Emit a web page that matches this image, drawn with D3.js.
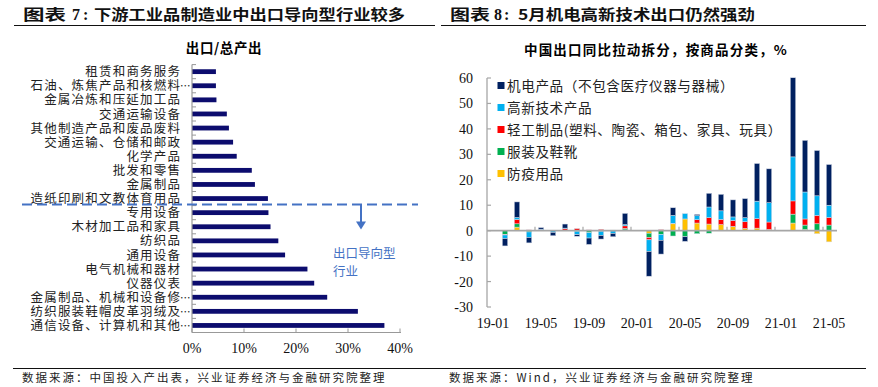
<!DOCTYPE html>
<html>
<head>
<meta charset="utf-8">
<script src="https://cdn.jsdelivr.net/npm/d3@7"></script>
<style>
  body { margin: 0; background: #fff; }
  svg { display: block; }
  .cjk { font-family: "Noto Sans CJK SC", sans-serif; }
  .num { font-family: "Liberation Serif", "Times New Roman", serif; }
</style>
</head>
<body>
<svg id="chart" width="878" height="387"></svg>
<script>
// ---- left chart data: export / total output
const industries = [
  "租赁和商务服务", "石油、炼焦产品和核燃料…", "金属冶炼和压延加工品", "交通运输设备",
  "其他制造产品和废品废料", "交通运输、仓储和邮政", "化学产品", "批发和零售", "金属制品",
  "造纸印刷和文教体育用品", "专用设备", "木材加工品和家具", "纺织品", "通用设备",
  "电气机械和器材", "仪器仪表", "金属制品、机械和设备修…", "纺织服装鞋帽皮革羽绒及…",
  "通信设备、计算机和其他…"
];
const exportShare = [4.6, 4.6, 4.7, 6.7, 7.1, 7.9, 8.6, 11.5, 12.1,
  14.6, 14.7, 15.1, 16.6, 17.9, 22.2, 23.5, 26.0, 31.9, 37.0];
const shareTicks = [0, 10, 20, 30, 40];

// ---- right chart data: export yoy contribution by product, %
const months = ["19-01","19-02","19-03","19-04","19-05","19-06","19-07","19-08","19-09","19-10","19-11","19-12",
  "20-01","20-02","20-03","20-04","20-05","20-06","20-07","20-08","20-09","20-10","20-11","20-12",
  "21-01","21-02","21-03","21-04","21-05"];
const monthLabels = ["19-01","19-05","19-09","20-01","20-05","20-09","21-01","21-05"];
const electro = [null,-2.9,6.1,-2.1,0.6,-1.3,1.6,-0.6,-2.5,-1.4,-1.3,4.4,
  null,-9.7,-5.4,3.0,-1.8,0.5,5.4,6.5,6.7,7.5,14.8,13.3,
  null,31.1,20.3,17.8,16.0];
const hitech = [null,-1.4,0.8,-2.2,0.3,-0.6,0.2,-1.4,-2.1,-1.7,-1.0,0.5,
  null,-4.6,-2.3,3.1,2.1,1.6,4.2,3.4,1.4,1.6,6.9,7.6,
  null,17.3,10.6,7.7,4.8];
const light = [null,-0.2,1.7,0.3,0.3,0,0.6,0.8,0.3,0.5,0.2,1.0,
  null,-0.9,0.4,0.2,0,1.3,2.5,2.0,2.3,2.6,3.7,2.9,
  null,5.2,2.4,3.3,3.0];
const apparel = [null,-1.5,1.3,-0.5,0,-0.1,0,-0.2,-0.8,-0.2,-0.1,0.6,
  null,-1.7,-1.5,-2.1,-2.4,-1.2,-1.0,0,0.1,0.1,0,0,
  null,3.5,1.7,2.7,2.2];
const epidemic = [null,0,1.4,0,0,0,0.2,0,0,0,0,0.3,
  null,-1.0,0,2.7,4.6,3.0,2.6,2.4,1.6,0.8,1.0,0.5,
  null,3.0,0.5,-1.2,-4.4];
const seriesNames = ["机电产品（不包含医疗仪器与器械）", "高新技术产品", "轻工制品(塑料、陶瓷、箱包、家具、玩具）", "服装及鞋靴", "防疫用品"];
const seriesColors = ["#002060", "#00b0f0", "#ff0000", "#00b050", "#ffc000"];
const yTicks = [60, 50, 40, 30, 20, 10, 0, -10, -20, -30];

const svg = d3.select("#chart");
svg.append("rect").attr("width", 878).attr("height", 387).attr("fill", "#fff");

// ---- headers (glyphs in the source are a little wide, so stretch to fit)
function header(x0, w0, num, numX, colonX, rest, restX, restW, lineEnd) {
  const bold = (x, w, s) => svg.append("text").attr("class", "cjk").attr("x", x).attr("y", 20)
    .attr("font-size", 14.5).attr("font-weight", 700).attr("fill", "#111")
    .attr("textLength", w).attr("lengthAdjust", "spacingAndGlyphs").text(s);
  bold(x0, w0, "图表");
  svg.append("text").attr("class", "num").attr("x", numX).attr("y", 20).attr("font-size", 16)
    .attr("font-weight", 700).attr("fill", "#111").text(num);
  svg.append("text").attr("class", "num").attr("x", colonX).attr("y", 20).attr("font-size", 16)
    .attr("font-weight", 700).attr("fill", "#111").text(":");
  bold(restX, restW, rest);
  svg.append("line").attr("x1", x0 - 9).attr("x2", lineEnd).attr("y1", 25.5).attr("y2", 25.5)
    .attr("stroke", "#111").attr("stroke-width", 1);
}
header(23, 43, "7", 72, 83, "下游工业品制造业中出口导向型行业较多", 94, 311, 435);
header(450, 40, "8", 494, 504, "5月机电高新技术出口仍然强劲", 518, 237, 866);

svg.append("line").attr("x1", 13).attr("x2", 866).attr("y1", 368.5).attr("y2", 368.5)
  .attr("stroke", "#111").attr("stroke-width", 1);
svg.append("text").attr("class", "cjk").attr("x", 22).attr("y", 382).attr("font-size", 11.5)
  .attr("letter-spacing", 2).attr("fill", "#222").text("数据来源：中国投入产出表，兴业证券经济与金融研究院整理");
svg.append("text").attr("class", "cjk").attr("x", 449).attr("y", 382).attr("font-size", 11.5)
  .attr("letter-spacing", 2).attr("fill", "#222").text("数据来源：Wind，兴业证券经济与金融研究院整理");

// ---- left chart
const L = { left: 192, right: 400, top: 64.6, bottom: 332.5 };
svg.append("text").attr("class", "cjk").attr("x", 224).attr("y", 53).attr("text-anchor", "middle")
  .attr("font-size", 13.5).attr("font-weight", 700).attr("letter-spacing", 0.6).text("出口/总产出");

const xs = d3.scaleLinear().domain([0, 40]).range([L.left, L.right]);
const ys = d3.scaleBand().domain(industries).range([L.top, L.bottom]).paddingInner(0.66).paddingOuter(0.33);
const step = ys.step();

const gl = svg.append("g");
gl.selectAll("rect.bar").data(industries).join("rect").attr("class", "bar")
  .attr("x", xs(0)).attr("y", d => ys(d))
  .attr("width", (d, i) => xs(exportShare[i]) - xs(0)).attr("height", ys.bandwidth())
  .attr("fill", "#0c0c6e");

// axes
gl.append("line").attr("x1", L.left).attr("x2", L.left).attr("y1", L.top).attr("y2", L.bottom)
  .attr("stroke", "#999").attr("stroke-width", 1.2);
gl.append("line").attr("x1", L.left).attr("x2", L.right + 1).attr("y1", L.bottom).attr("y2", L.bottom)
  .attr("stroke", "#999").attr("stroke-width", 1.2);
d3.range(industries.length + 1).forEach(i => {
  const y = L.top + i * step;
  gl.append("line").attr("x1", L.left).attr("x2", L.left + 4).attr("y1", y).attr("y2", y)
    .attr("stroke", "#999").attr("stroke-width", 1);
});
shareTicks.forEach(t => {
  gl.append("line").attr("x1", xs(t)).attr("x2", xs(t)).attr("y1", L.bottom).attr("y2", L.bottom - 4)
    .attr("stroke", "#999").attr("stroke-width", 1);
  gl.append("text").attr("class", "num").attr("x", xs(t)).attr("y", 353).attr("text-anchor", "middle")
    .attr("font-size", 14).attr("fill", "#111").text(t + "%");
});
industries.forEach(d => {
  const cut = d.endsWith("…");
  const y = ys(d) + ys.bandwidth() / 2 + 4.6;
  gl.append("text").attr("class", "cjk").attr("x", 181.2).attr("y", y).attr("text-anchor", "end")
    .attr("font-size", 12.5).attr("letter-spacing", 1.2).attr("fill", "#222").text(cut ? d.slice(0, -1) : d);
  if (cut) gl.append("text").attr("class", "cjk").attr("x", 180).attr("y", y)
    .attr("font-size", 10.5).attr("fill", "#222").text("…");
});

// annotation
const annoY = ys("造纸印刷和文教体育用品") + ys.bandwidth() / 2 + 6;
gl.append("line").attr("x1", 22).attr("x2", 418).attr("y1", annoY).attr("y2", annoY)
  .attr("stroke", "#4472c4").attr("stroke-width", 2).attr("stroke-dasharray", "10,5");
gl.append("line").attr("x1", 361).attr("x2", 361).attr("y1", annoY).attr("y2", annoY + 18)
  .attr("stroke", "#4472c4").attr("stroke-width", 2);
gl.append("path").attr("d", `M356,${annoY + 17}L366,${annoY + 17}L361,${annoY + 25}Z`).attr("fill", "#4472c4");
gl.append("text").attr("class", "cjk").attr("x", 333).attr("y", annoY + 53).attr("font-size", 12.5)
  .attr("fill", "#4472c4").text("出口导向型");
gl.append("text").attr("class", "cjk").attr("x", 333).attr("y", annoY + 71).attr("font-size", 12.5)
  .attr("fill", "#4472c4").text("行业");

// ---- right chart
const R = { left: 487, right: 835, top: 78, bottom: 307 };
svg.append("text").attr("class", "cjk").attr("x", 656).attr("y", 55).attr("text-anchor", "middle")
  .attr("font-size", 13.5).attr("font-weight", 700).attr("letter-spacing", 1.2).text("中国出口同比拉动拆分，按商品分类，%");

const xb = d3.scaleBand().domain(months).range([R.left, R.right]).paddingInner(0.55).paddingOuter(0.275);
const yv = d3.scaleLinear().domain([-30, 60]).range([R.bottom, R.top]);

const rows = months.map((m, i) => ({
  month: m, s4: epidemic[i] || 0, s3: apparel[i] || 0, s2: light[i] || 0, s1: hitech[i] || 0, s0: electro[i] || 0
}));
const keys = ["s4", "s3", "s2", "s1", "s0"];
const colorOf = { s0: seriesColors[0], s1: seriesColors[1], s2: seriesColors[2], s3: seriesColors[3], s4: seriesColors[4] };
const stacked = d3.stack().keys(keys).offset(d3.stackOffsetDiverging)(rows);

const gr = svg.append("g");
gr.selectAll("g.layer").data(stacked).join("g").attr("class", "layer")
  .attr("fill", d => colorOf[d.key])
  .selectAll("rect").data(d => d.filter(p => p[1] !== p[0])).join("rect")
  .attr("x", p => xb(p.data.month)).attr("width", xb.bandwidth())
  .attr("y", p => yv(Math.max(p[0], p[1]))).attr("height", p => Math.abs(yv(p[0]) - yv(p[1])))
  .attr("stroke", "#d5dbe8").attr("stroke-width", 0.5);

gr.append("line").attr("x1", R.left).attr("x2", R.left).attr("y1", R.top).attr("y2", R.bottom)
  .attr("stroke", "#a6a6a6").attr("stroke-width", 1.3);
yTicks.forEach(t => {
  gr.append("line").attr("x1", R.left).attr("x2", R.left + 4).attr("y1", yv(t)).attr("y2", yv(t))
    .attr("stroke", "#a6a6a6").attr("stroke-width", 1.2);
  gr.append("text").attr("class", "num").attr("x", 473).attr("y", yv(t) + 5).attr("text-anchor", "end")
    .attr("font-size", 14).attr("fill", "#111").text(t);
});
gr.append("line").attr("x1", R.left).attr("x2", R.right + 2).attr("y1", yv(0)).attr("y2", yv(0))
  .attr("stroke", "#a6a6a6").attr("stroke-width", 1.8);
d3.range(4, months.length, 4).forEach(i => {
  const x = R.left + i * xb.step();
  gr.append("line").attr("x1", x).attr("x2", x).attr("y1", yv(0)).attr("y2", yv(0) - 4)
    .attr("stroke", "#a6a6a6").attr("stroke-width", 1.2);
});
monthLabels.forEach(m => {
  gr.append("text").attr("class", "num").attr("x", xb(m) + xb.bandwidth() / 2).attr("y", 328)
    .attr("text-anchor", "middle").attr("font-size", 14).attr("fill", "#111").text(m);
});

// legend
seriesNames.forEach((n, i) => {
  const y = 85.5 + i * 22;
  gr.append("rect").attr("x", 497.5).attr("y", y - 3.5).attr("width", 7).attr("height", 7).attr("fill", seriesColors[i]);
  gr.append("text").attr("class", "cjk").attr("x", 507).attr("y", y + 5).attr("font-size", 13.6)
    .attr("letter-spacing", 0.6).attr("fill", "#222").text(n);
});
</script>
</body>
</html>
